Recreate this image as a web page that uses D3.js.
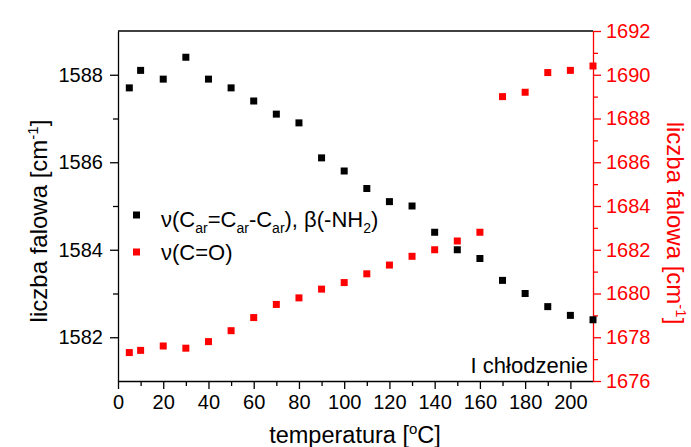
<!DOCTYPE html>
<html>
<head>
<meta charset="utf-8">
<script src="https://cdn.jsdelivr.net/npm/d3@7"></script>
<style>
  body { margin: 0; background: #fff; }
  svg text { font-family: "Liberation Sans", Arial, sans-serif; }
</style>
</head>
<body>
<div id="chart"></div>
<script>
// temperature [°C]
const temps = [5, 10, 20, 30, 40, 50, 60, 70, 80, 90, 100, 110, 120, 130, 140, 150, 160, 170, 180, 190, 200, 210];
// ν(Car=Car-Car), β(-NH2) — left axis
const ringBand = [1587.7, 1588.1, 1587.9, 1588.4, 1587.9, 1587.7, 1587.4, 1587.1, 1586.9, 1586.1, 1585.8,
                  1585.4, 1585.1, 1585.0, 1584.4, 1584.0, 1583.8, 1583.3, 1583.0, 1582.7, 1582.5, 1582.4];
// ν(C=O) — right axis
const carbonylBand = [1677.3, 1677.4, 1677.6, 1677.5, 1677.8, 1678.3, 1678.9, 1679.5, 1679.8, 1680.2, 1680.5,
                      1680.9, 1681.3, 1681.7, 1682.0, 1682.4, 1682.8, 1689.0, 1689.2, 1690.1, 1690.2, 1690.4];

const xTicks = [0, 20, 40, 60, 80, 100, 120, 140, 160, 180, 200];
const xMinor = [10, 30, 50, 70, 90, 110, 130, 150, 170, 190];
const yLeftTicks = [1582, 1584, 1586, 1588];
const yLeftMinor = [1583, 1585, 1587];
const yRightTicks = [1676, 1678, 1680, 1682, 1684, 1686, 1688, 1690, 1692];
const yRightMinor = [1677, 1679, 1681, 1683, 1685, 1687, 1689, 1691];

const width = 691, height = 447;
const margin = { top: 31, right: 98, bottom: 66, left: 118 };
const innerW = width - margin.left - margin.right;
const innerH = height - margin.top - margin.bottom;
const RED = "#ff0000";

const svg = d3.select("#chart").append("svg")
    .attr("width", width)
    .attr("height", height);

const g = svg.append("g").attr("transform", `translate(${margin.left},${margin.top})`);

const x = d3.scaleLinear().domain([0, 210]).range([0, innerW]);
const yL = d3.scaleLinear().domain([1581, 1589]).range([innerH, 0]);
const yR = d3.scaleLinear().domain([1676, 1692]).range([innerH, 0]);
const fmt = d3.format("d");

function styleAxis(sel, color) {
    sel.selectAll("path").attr("stroke", color).attr("stroke-width", 1.3);
    sel.selectAll("line").attr("stroke", color).attr("stroke-width", 1.3);
    sel.selectAll("text").attr("fill", color).style("font-size", "20px");
}

// --- bottom axis
const xAx = g.append("g").attr("transform", `translate(0,${innerH})`)
    .call(d3.axisBottom(x).tickValues(xTicks).tickFormat(fmt).tickSize(8).tickSizeOuter(0).tickPadding(6));
styleAxis(xAx, "#000");
const xAxMinor = g.append("g").attr("transform", `translate(0,${innerH})`)
    .call(d3.axisBottom(x).tickValues(xMinor).tickSize(5).tickFormat(""));
styleAxis(xAxMinor, "#000");
xAxMinor.select("path").remove();

// --- left axis
const yAx = g.append("g")
    .call(d3.axisLeft(yL).tickValues(yLeftTicks).tickFormat(fmt).tickSize(8).tickSizeOuter(0).tickPadding(7));
styleAxis(yAx, "#000");
const yAxMinor = g.append("g")
    .call(d3.axisLeft(yL).tickValues(yLeftMinor).tickSize(5).tickFormat(""));
styleAxis(yAxMinor, "#000");
yAxMinor.select("path").remove();

// --- top border
g.append("line")
    .attr("x1", 0).attr("x2", innerW).attr("y1", 0).attr("y2", 0)
    .attr("stroke", "#000").attr("stroke-width", 1.3);

// --- right axis (red)
const rAx = g.append("g").attr("transform", `translate(${innerW},0)`)
    .call(d3.axisRight(yR).tickValues(yRightTicks).tickFormat(fmt).tickSize(8).tickSizeOuter(0).tickPadding(5));
styleAxis(rAx, RED);
const rAxMinor = g.append("g").attr("transform", `translate(${innerW},0)`)
    .call(d3.axisRight(yR).tickValues(yRightMinor).tickSize(5).tickFormat(""));
styleAxis(rAxMinor, RED);
rAxMinor.select("path").remove();

// --- data squares
const S = 7;
g.append("g").selectAll("rect")
    .data(temps.map((t, i) => [t, carbonylBand[i]]))
    .join("rect")
    .attr("x", d => x(d[0]) - S / 2)
    .attr("y", d => yR(d[1]) - S / 2)
    .attr("width", S).attr("height", S)
    .attr("fill", RED);

g.append("g").selectAll("rect")
    .data(temps.map((t, i) => [t, ringBand[i]]))
    .join("rect")
    .attr("x", d => x(d[0]) - S / 2)
    .attr("y", d => yL(d[1]) - S / 2)
    .attr("width", S).attr("height", S)
    .attr("fill", "#000");

// --- axis titles
const xTitle = svg.append("text")
    .attr("x", 355)
    .attr("y", 443)
    .attr("text-anchor", "middle")
    .style("font-size", "23.5px")
    .attr("fill", "#000");
xTitle.append("tspan").text("temperatura [");
xTitle.append("tspan").attr("dy", -9).style("font-size", "15px").text("o");
xTitle.append("tspan").attr("dy", 9).text("C]");

function waveTitle(cx, cy, rot, color) {
    const t = svg.append("text")
        .attr("transform", `translate(${cx},${cy}) rotate(${rot})`)
        .attr("text-anchor", "middle")
        .style("font-size", "24px")
        .attr("fill", color);
    t.append("tspan").text("liczba falowa [cm");
    t.append("tspan").attr("dy", -9).style("font-size", "15px").text("-1");
    t.append("tspan").attr("dy", 9).text("]");
}
waveTitle(47, 221, -90, "#000");
waveTitle(667, 223, 90, RED);

// --- legend
const legend = svg.append("g");
legend.append("rect").attr("x", 133).attr("y", 211.5).attr("width", S).attr("height", S).attr("fill", "#000");
legend.append("rect").attr("x", 133).attr("y", 248.5).attr("width", S).attr("height", S).attr("fill", RED);

const l1 = legend.append("text").attr("x", 161).attr("y", 227).style("font-size", "22px").attr("fill", "#000");
l1.append("tspan").text("ν(C");
l1.append("tspan").attr("dy", 6).style("font-size", "14px").text("ar");
l1.append("tspan").attr("dy", -6).text("=C");
l1.append("tspan").attr("dy", 6).style("font-size", "14px").text("ar");
l1.append("tspan").attr("dy", -6).text("-C");
l1.append("tspan").attr("dy", 6).style("font-size", "14px").text("ar");
l1.append("tspan").attr("dy", -6).text("), β(-NH");
l1.append("tspan").attr("dy", 6).style("font-size", "14px").text("2");
l1.append("tspan").attr("dy", -6).text(")");

legend.append("text").attr("x", 161).attr("y", 260).style("font-size", "22px").attr("fill", "#000")
    .text("ν(C=O)");

// --- annotation
svg.append("text")
    .attr("x", 588).attr("y", 373)
    .attr("text-anchor", "end")
    .style("font-size", "22px")
    .attr("fill", "#000")
    .text("I chłodzenie");
</script>
</body>
</html>
